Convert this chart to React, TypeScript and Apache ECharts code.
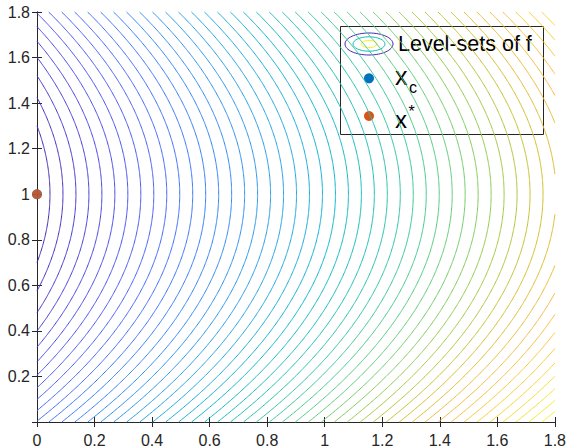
import React, { useEffect, useRef } from "react";
import * as echarts from "echarts";

// Axis ticks (MATLAB shows no "0" on the y axis)
const xTicks = [0, 0.2, 0.4, 0.6, 0.8, 1, 1.2, 1.4, 1.6, 1.8];
const yTicks = [0.2, 0.4, 0.6, 0.8, 1, 1.2, 1.4, 1.6, 1.8];

// Contour levels of f(x) = x1 + 0.5 (x2 - 1)^2 (50 levels between min 0 and max 2.3)
const levels = [
  0.0451, 0.0902, 0.1353, 0.1804, 0.2255, 0.2706, 0.3157, 0.3608, 0.4059, 0.451,
  0.4961, 0.5412, 0.5863, 0.6314, 0.6765, 0.7216, 0.7667, 0.8118, 0.8569, 0.902,
  0.9471, 0.9922, 1.0373, 1.0824, 1.1275, 1.1725, 1.2176, 1.2627, 1.3078, 1.3529,
  1.398, 1.4431, 1.4882, 1.5333, 1.5784, 1.6235, 1.6686, 1.7137, 1.7588, 1.8039,
  1.849, 1.8941, 1.9392, 1.9843, 2.0294, 2.0745, 2.1196, 2.1647, 2.2098, 2.2549,
];
const zRange = [0, 2.3];
const fCurvature = 0.5;
const fCenterY = 1;

// Points
const xC = [[0, 1]];
const xStar = [[0, 1]];

const X_MIN = 0, X_MAX = 1.8, Y_MIN = 0, Y_MAX = 1.8;

const PARULA = [
  [0.2422, 0.1504, 0.6603], [0.2706, 0.2147, 0.8364], [0.2813, 0.3006, 0.9414],
  [0.2699, 0.3892, 0.9906], [0.1963, 0.4847, 0.9892], [0.1687, 0.5703, 0.9359],
  [0.1248, 0.6459, 0.8883], [0.0297, 0.7082, 0.8163], [0.0964, 0.75, 0.712],
  [0.2161, 0.7843, 0.5923], [0.3909, 0.8029, 0.4354], [0.6174, 0.7876, 0.2612],
  [0.8203, 0.7498, 0.1535], [0.9728, 0.7298, 0.2394], [0.9892, 0.8136, 0.1885],
  [0.9597, 0.9135, 0.1423], [0.9769, 0.9839, 0.0805],
];
const PARULA_POS = [0, 4, 8, 12, 16, 20, 24, 28, 32, 36, 40, 44, 48, 52, 56, 60, 63].map((i) => i / 63);

function parula(t: number): string {
  t = Math.max(0, Math.min(1, t));
  let i = 0;
  while (i < PARULA_POS.length - 2 && t > PARULA_POS[i + 1]) i++;
  const a = PARULA_POS[i], b = PARULA_POS[i + 1];
  const u = (t - a) / (b - a);
  const c = PARULA[i].map((v, k) => Math.round(255 * (v + (PARULA[i + 1][k] - v) * u)));
  return `rgb(${c[0]},${c[1]},${c[2]})`;
}

function levelSegments(L: number): number[][][] {
  const ys: number[] = [];
  const n = 360;
  for (let i = 0; i <= n; i++) ys.push(Y_MIN + ((Y_MAX - Y_MIN) * i) / n);
  for (const edge of [X_MIN, X_MAX]) {
    const d = L - edge;
    if (d >= 0) {
      const s = Math.sqrt(d / fCurvature);
      for (const y of [fCenterY - s, fCenterY + s]) if (y >= Y_MIN && y <= Y_MAX) ys.push(y);
    }
  }
  ys.sort((a, b) => a - b);
  const segs: number[][][] = [];
  let cur: number[][] = [];
  const eps = 1e-9;
  for (const y of ys) {
    const x = L - fCurvature * (y - fCenterY) * (y - fCenterY);
    if (x >= X_MIN - eps && x <= X_MAX + eps) {
      cur.push([Math.min(Math.max(x, X_MIN), X_MAX), y]);
    } else {
      if (cur.length > 1) segs.push(cur);
      cur = [];
    }
  }
  if (cur.length > 1) segs.push(cur);
  return segs;
}

const FONT = "'Liberation Sans', Arial, Helvetica, sans-serif";
const AX = "#262626";

export default function App() {
  const ref = useRef<HTMLDivElement>(null);
  useEffect(() => {
    if (!ref.current) return;
    const chart = echarts.init(ref.current, undefined, { renderer: "svg" });
    const fmt = (v: number) => String(parseFloat(v.toFixed(1)));
    const baseAxis = {
      min: X_MIN,
      max: X_MAX,
      interval: 0.2,
      axisLine: { show: true, lineStyle: { color: AX, width: 1 } },
      axisTick: { show: true, inside: true, length: 5, lineStyle: { color: AX } },
      splitLine: { show: false },
    };
    const option: any = {
      animation: false,
      backgroundColor: "#ffffff",
      textStyle: { fontFamily: FONT },
      grid: { left: 37, right: 12, top: 12, bottom: 25 },
      xAxis: [
        {
          ...baseAxis,
          type: "value",
          position: "bottom",
          axisLabel: {
            color: AX, fontSize: 16, margin: 10, fontFamily: FONT,
            formatter: (v: number) => (xTicks.some((t) => Math.abs(t - v) < 1e-6) ? fmt(v) : ""),
          },
        },
        { ...baseAxis, type: "value", position: "top", axisLabel: { show: false } },
      ],
      yAxis: [
        {
          ...baseAxis,
          min: Y_MIN,
          max: Y_MAX,
          type: "value",
          position: "left",
          axisLabel: {
            color: AX, fontSize: 16, margin: 7, fontFamily: FONT,
            formatter: (v: number) => (yTicks.some((t) => Math.abs(t - v) < 1e-6) ? fmt(v) : ""),
          },
        },
        { ...baseAxis, min: Y_MIN, max: Y_MAX, type: "value", position: "right", axisLabel: { show: false } },
      ],
      series: [
        {
          type: "custom",
          coordinateSystem: "cartesian2d",
          xAxisIndex: 0,
          yAxisIndex: 0,
          silent: true,
          z: 1,
          data: levels.map((l) => [l, fCenterY]),
          renderItem: (params: any, api: any) => {
            const L = api.value(0);
            const color = parula((L - zRange[0]) / (zRange[1] - zRange[0]));
            return {
              type: "group",
              children: levelSegments(L).map((seg) => ({
                type: "polyline",
                shape: { points: seg.map((p) => api.coord(p)) },
                style: { stroke: color, fill: "none", lineWidth: 1 },
              })),
            };
          },
        },
        {
          type: "scatter",
          name: "x_c",
          data: xC,
          symbol: "circle",
          symbolSize: 10,
          clip: false,
          z: 3,
          itemStyle: { color: "#0072BD" },
        },
        {
          type: "scatter",
          name: "x*",
          data: xStar,
          symbol: "circle",
          symbolSize: 10,
          clip: false,
          z: 4,
          itemStyle: { color: "#D95319" },
        },
      ],
      graphic: [
        {
          type: "group",
          z: 100,
          children: [
            { type: "rect", shape: { x: 340.5, y: 26.5, width: 203, height: 108 }, style: { fill: "#ffffff", stroke: AX, lineWidth: 1 } },
            { type: "ellipse", shape: { cx: 369, cy: 44, rx: 24, ry: 11 }, style: { fill: "none", stroke: parula(0.02), lineWidth: 1 } },
            { type: "ellipse", shape: { cx: 369, cy: 44, rx: 16, ry: 7.2 }, style: { fill: "none", stroke: parula(0.5), lineWidth: 1 } },
            { type: "ellipse", shape: { cx: 369, cy: 44, rx: 8, ry: 3.6 }, style: { fill: "none", stroke: parula(0.98), lineWidth: 1 } },
            { type: "text", x: 398, y: 44.4, style: { text: "Level-sets of f", fontSize: 21.5, fontFamily: FONT, fill: "#000000", align: "left", verticalAlign: "middle" } },
            { type: "circle", shape: { cx: 369, cy: 78.3, r: 5 }, style: { fill: "#0072BD" } },
            { type: "text", x: 395, y: 76.3, style: { text: "x", fontSize: 25, fontFamily: FONT, fill: "#000000", align: "left", verticalAlign: "middle" } },
            { type: "text", x: 409, y: 87.2, style: { text: "c", fontSize: 16, fontFamily: FONT, fill: "#000000", align: "left", verticalAlign: "middle" } },
            { type: "circle", shape: { cx: 369, cy: 116, r: 5 }, style: { fill: "#D95319" } },
            { type: "text", x: 395, y: 119, style: { text: "x", fontSize: 24, fontFamily: FONT, fill: "#000000", align: "left", verticalAlign: "middle" } },
            { type: "text", x: 408.5, y: 111, style: { text: "*", fontSize: 16, fontFamily: FONT, fill: "#000000", align: "left", verticalAlign: "middle" } },
          ],
        },
      ],
    };
    chart.setOption(option);
    return () => chart.dispose();
  }, []);
  return <div ref={ref} style={{ position: "absolute", left: 0, top: 0, width: 569, height: 448 }} />;
}
